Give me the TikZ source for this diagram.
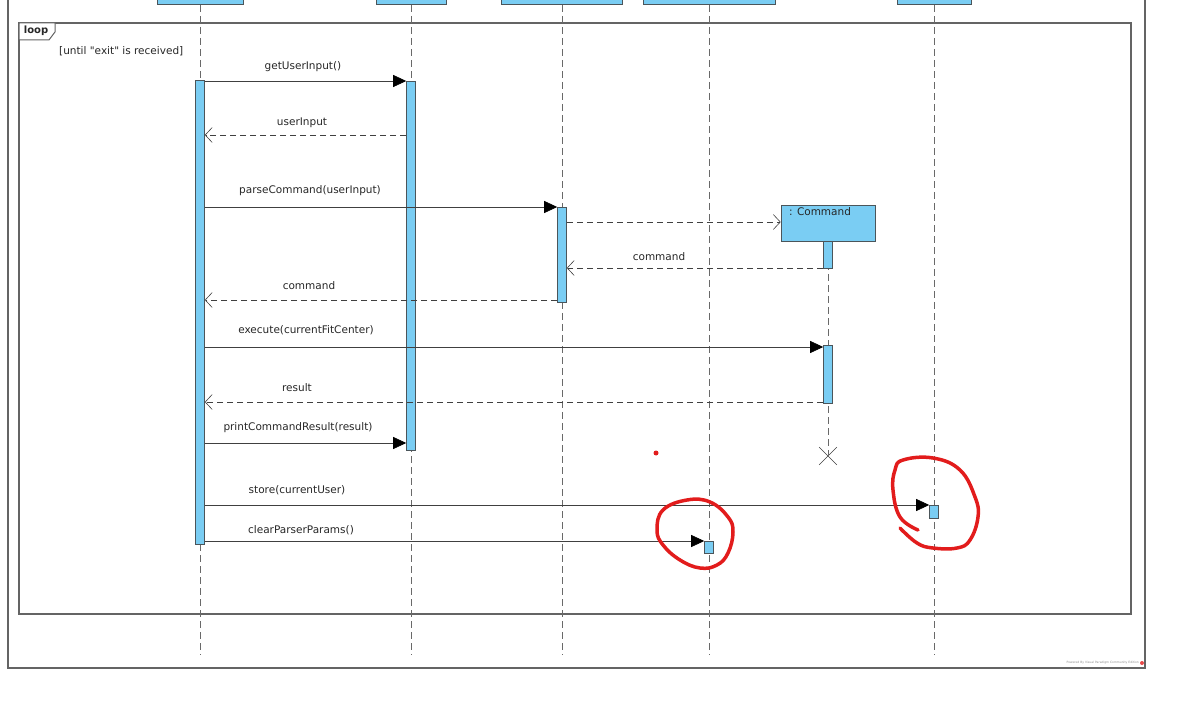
\documentclass[tikz,border=0pt]{standalone}
\usepackage{fontspec}
\setmainfont{DejaVu Sans}
\usetikzlibrary{positioning,arrows.meta,shapes.misc}
\definecolor{actblue}{RGB}{122,205,243}
\definecolor{edgegray}{RGB}{75,85,90}
\definecolor{lifegray}{RGB}{105,105,105}
\definecolor{framegray}{RGB}{100,100,100}
\definecolor{penred}{RGB}{226,28,28}
\tikzset{
  head/.style={draw=edgegray, fill=actblue, semithick, anchor=south, minimum height=30pt, inner sep=0pt},
  act/.style={draw=edgegray, fill=actblue, semithick, anchor=north, minimum width=9pt, inner sep=0pt},
  life/.style={draw=lifegray, semithick, dash pattern=on 7pt off 4pt},
  call/.style={-{Triangle[length=13pt,width=12pt,black]}, draw=black!75, semithick},
  ret/.style={-{Straight Barb[length=7pt,width=15pt]}, draw=black!75, semithick, dash pattern=on 6pt off 4pt},
  msg/.style={font=\fontsize{10.5}{12}\selectfont, text=black!85, inner sep=1pt},
  pen/.style={draw=penred, line width=3.5pt, line cap=round, line join=round},
  seqdiag/.style={x=1pt, y=-1pt}
}

\begin{document}
\begin{tikzpicture}[seqdiag]
  \useasboundingbox (0,0) rectangle (1203,703);
  % frames
  \draw[framegray, line width=1.6pt] (8,-20) rectangle (1145,668);
  \draw[framegray, line width=1.2pt] (19,23) rectangle (1131,614);
  \draw[framegray, line width=1pt, fill=white] (19,23) -- (55,23) -- (55,32) -- (49,40) -- (19,40) -- cycle;
  \node[msg, font=\fontsize{10}{12}\selectfont\bfseries] (looplbl) at (36,31) {loop};
  \node[msg, anchor=west] (guard) at (58,51) {[until \textquotedbl exit\textquotedbl{} is received]};

  % lifeline heads
  \node[head, minimum width=86pt] (h1) at (200,5) {};
  \node[head, minimum width=70pt] (h2) at (411,5) {};
  \node[head, minimum width=121pt] (h3) at (562,5) {};
  \node[head, minimum width=132pt] (h4) at (709,5) {};
  \node[head, minimum width=74pt] (h5) at (934,5) {};
  \foreach \h in {h1,h2,h3,h4,h5}
    \draw[life] (\h.south) -- (\h.south |- 0,655);

  % created object
  \node[draw=edgegray, fill=actblue, semithick, minimum width=94pt, minimum height=36pt, inner sep=0pt] (cmd) at (828,223) {};
  \node[msg] (cmdname) at (820,212) {: Command};
  \node[draw=black!75, cross out, semithick, minimum size=17pt, inner sep=0pt] (kill) at (828,456) {};
  \draw[life, line width=0.8pt] (cmd.south) -- (kill.center);

  % activations
  \node[act, minimum height=464pt] (a1) at (200,80) {};
  \node[act, minimum height=369pt] (a2) at (411,81) {};
  \node[act, minimum height=95pt] (a3) at (562,207) {};
  \node[act, minimum height=27pt] (c1) at (828,241) {};
  \node[act, minimum height=58pt] (c2) at (828,345) {};
  \node[act, minimum height=13pt] (s5) at (934,505) {};
  \node[act, minimum height=12pt] (s4) at (709,541) {};

  % messages
  \draw[call] (a1.east |- 0,81) -- (a2.west |- 0,81);
  \node[msg] (m1) at (303,67) {getUserInput()};
  \draw[ret] (a2.west |- 0,135) -- (a1.east |- 0,135);
  \node[msg] (m2) at (302,123) {userInput};
  \draw[call] (a1.east |- 0,207) -- (a3.west |- 0,207);
  \node[msg] (m3) at (310,191) {parseCommand(userInput)};
  \draw[ret] (a3.east |- 0,222) -- (cmd.west |- 0,222);
  \draw[ret] (c1.west |- 0,268) -- (a3.east |- 0,268);
  \node[msg] (m5) at (659,257) {command};
  \draw[ret] (a3.west |- 0,300) -- (a1.east |- 0,300);
  \node[msg] (m6) at (309,286) {command};
  \draw[call] (a1.east |- 0,347) -- (c2.west |- 0,347);
  \node[msg] (m7) at (306,330) {execute(currentFitCenter)};
  \draw[ret] (c2.west |- 0,402) -- (a1.east |- 0,402);
  \node[msg] (m8) at (297,388) {result};
  \draw[call] (a1.east |- 0,443) -- (a2.west |- 0,443);
  \node[msg] (m9) at (298,428) {printCommandResult(result)};
  \draw[call] (a1.east |- 0,505) -- (s5.west |- 0,505);
  \node[msg] (m10) at (297,490) {store(currentUser)};
  \draw[call] (a1.east |- 0,541) -- (s4.west |- 0,541);
  \node[msg] (m11) at (301,530) {clearParserParams()};

  % hand-drawn marks
  \fill[penred] (656,453) circle (2.5pt);
  \draw[pen] plot[smooth cycle, tension=0.7] coordinates {(657,530) (663,510) (687,500) (710,502) (728,517) (733,532) (728,553) (717,565) (700,568) (680,560) (663,545)};
  \draw[pen] plot[smooth, tension=0.7] coordinates {(918,530) (900,517) (893,490) (895,470) (903,460) (933,458) (960,470) (975,497) (978,517) (970,540) (957,548) (933,548) (917,543) (900,528)};

  % watermark
  \node[font=\fontsize{3}{3}\selectfont, text=black!45, anchor=east, inner sep=0pt] (vp) at (1139,663) {Powered By Visual Paradigm Community Edition};
  \fill[penred!80] (1142,663) circle (2pt);
\end{tikzpicture}
\end{document}
